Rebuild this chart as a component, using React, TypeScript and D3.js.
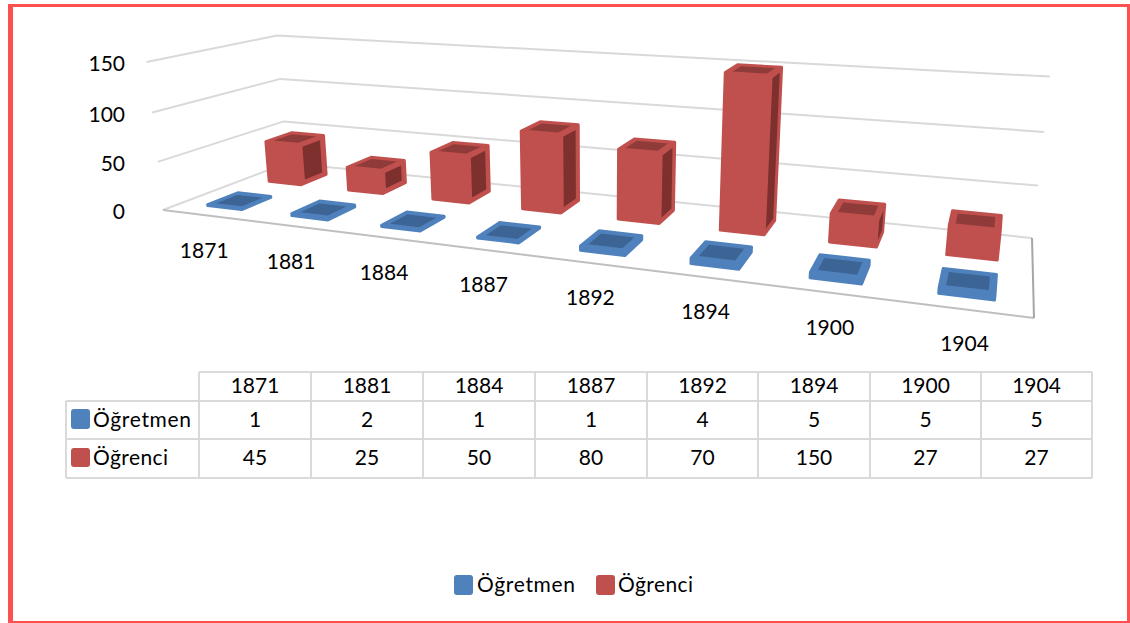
import React from "react";
import * as d3 from "d3";

const years = ["1871", "1881", "1884", "1887", "1892", "1894", "1900", "1904"];
const teachers = [1, 2, 1, 1, 4, 5, 5, 5];
const students = [45, 25, 50, 80, 70, 150, 27, 27];
const valueTicks = [0, 50, 100, 150];
const seriesNames = ["Öğretmen", "Öğrenci"];

type P = [number, number];
const BLUE = "#4F81BD", RED = "#C0504D", GRID = "#D9D9D9";
const FONT = "Lato, Carlito, sans-serif";

// unit square -> quad homography: (0,0),(1,0),(1,1),(0,1); returns homogeneous coordinates
function homography(q: P[]) {
  const [[x0, y0], [x1, y1], [x2, y2], [x3, y3]] = q;
  const dx1 = x1 - x2, dx2 = x3 - x2, sx = x0 - x1 + x2 - x3;
  const dy1 = y1 - y2, dy2 = y3 - y2, sy = y0 - y1 + y2 - y3;
  const det = dx1 * dy2 - dx2 * dy1;
  const g = (sx * dy2 - dx2 * sy) / det;
  const h = (dx1 * sy - sx * dy1) / det;
  const a = x1 - x0 + g * x1, b = x3 - x0 + h * x3;
  const d = y1 - y0 + g * y1, e = y3 - y0 + h * y3;
  return (u: number, v: number): [number, number, number] => [a * u + b * v + x0, d * u + e * v + y0, g * u + h * v + 1];
}

// floor plane: front-left, front-right, back-right, back-left
const floor = homography([[163, 210], [1034, 318], [1032, 238], [287, 163]]);
// vertical vanishing point of the camera and the weight of the full value height
const vanish: P = [596, 4118];
const tau = -0.0365;
const hScale = d3.scaleLinear().domain([0, 150]).range([0, 1]);
const uBand = d3.scaleBand<string>().domain(years).range([0, 1]);

function proj(u: number, v: number, val: number): P {
  const [X, Y, W] = floor(u, v);
  const t = hScale(val) * tau;
  return [(X + t * vanish[0]) / (W + t), (Y + t * vanish[1]) / (W + t)];
}

const pts = (a: P[]) => a.map((p) => p[0].toFixed(1) + "," + p[1].toFixed(1)).join(" ");

function Bar({ year, val, v0, v1, color, topColor, sideColor }: any) {
  const bw = uBand.bandwidth();
  const u0 = uBand(year)! + bw * 0.31, u1 = u0 + bw * 0.41;
  const corners: P[] = [];
  for (const u of [u0, u1]) for (const v of [v0, v1]) for (const h of [0, val]) corners.push(proj(u, v, h));
  const hull = d3.polygonHull(corners)!;
  const du = 0.006, dv = 0.035;
  const top = [proj(u0 + du, v0 + dv, val), proj(u1 - du, v0 + dv, val), proj(u1 - du, v1 - dv, val), proj(u0 + du, v1 - dv, val)];
  const dh = Math.min(4, val * 0.2);
  const side = [proj(u1, v0 + dv, dh), proj(u1, v1 - dv, dh), proj(u1, v1 - dv, val - dh), proj(u1, v0 + dv, val - dh)];
  const sideVisible = proj(u1, v1, 0)[0] - proj(u1, v0, 0)[0] > 3 && val > 10;
  return (
    <g>
      <polygon points={pts(hull)} fill={color} stroke={color} strokeWidth={3} strokeLinejoin="round" />
      <polygon points={pts(top)} fill={topColor} />
      {sideVisible && <polygon points={pts(side)} fill={sideColor} />}
    </g>
  );
}

const tableX = [199, 311, 423, 535, 647, 758, 870, 981, 1092];
const tableY = [372, 401, 439, 478];

export default function App() {
  const labelDx = d3.scaleLinear().domain([0, 7]).range([0, 2]);
  const labelDy = d3.scaleLinear().domain([0, 7]).range([36, 35]);
  const txt = { fontFamily: FONT, fontSize: 21, fill: "#000" } as const;
  return (
    <svg width={1130} height={623} style={{ position: "absolute", left: 0, top: 0, background: "#fff" }}>
      {/* grid walls */}
      {valueTicks.map((t) => {
        const fl = proj(0, 0, t), bl = proj(0, 1, t), br = proj(1, 1, t);
        return <polyline key={t} points={pts([fl, bl, br])} fill="none" stroke={GRID} strokeWidth={2} />;
      })}
      {/* floor */}
      <polyline points={pts([proj(0, 0, 0), proj(1, 0, 0)])} fill="none" stroke="#BFBFBF" strokeWidth={2} />
      <polyline points={pts([proj(1, 1, 0), proj(1, 0, 0)])} fill="none" stroke="#A6A6A6" strokeWidth={2} />
      {valueTicks.map((t) => {
        const p = proj(0, 0, t);
        return <text key={t} x={125} y={p[1] + 9} textAnchor="end" {...txt}>{t}</text>;
      })}
      {years.map((y, i) => (
        <Bar key={y} year={y} val={students[i]} v0={0.63} v1={0.86} color={RED} topColor="#8F3B39" sideColor="#7D302E" />
      ))}
      {years.map((y, i) => (
        <Bar key={y} year={y} val={teachers[i]} v0={0.14} v1={0.37} color={BLUE} topColor="#3C6494" sideColor="#3C6494" />
      ))}
      {years.map((y, i) => {
        const p = proj(uBand(y)! + uBand.bandwidth() / 2, 0, 0);
        return <text key={y} x={p[0] + labelDx(i)} y={p[1] + labelDy(i) + 7} textAnchor="middle" {...txt}>{y}</text>;
      })}
      {/* data table */}
      <g stroke={GRID} strokeWidth={2}>
        <line x1={199} x2={1092} y1={tableY[0]} y2={tableY[0]} />
        {tableY.slice(1).map((y) => <line key={y} x1={66} x2={1092} y1={y} y2={y} />)}
        {tableX.map((x) => <line key={x} x1={x} x2={x} y1={tableY[0]} y2={tableY[3]} />)}
        <line x1={66} x2={66} y1={tableY[1]} y2={tableY[3]} />
      </g>
      {years.map((y, i) => {
        const cx = (tableX[i] + tableX[i + 1]) / 2;
        return (
          <g key={y}>
            <text x={cx} y={393} textAnchor="middle" {...txt}>{y}</text>
            <text x={cx} y={427} textAnchor="middle" {...txt}>{teachers[i]}</text>
            <text x={cx} y={465} textAnchor="middle" {...txt}>{students[i]}</text>
          </g>
        );
      })}
      <rect x={71} y={409} width={19} height={20} rx={3} fill={BLUE} />
      <text x={93} y={427} textLength={98} {...txt}>{seriesNames[0]}</text>
      <rect x={71} y={448} width={19} height={19} rx={3} fill={RED} />
      <text x={93} y={465} textLength={75} {...txt}>{seriesNames[1]}</text>
      {/* legend */}
      <rect x={454} y={575} width={19} height={20} rx={3} fill={BLUE} />
      <text x={477} y={592} textLength={98} {...txt}>{seriesNames[0]}</text>
      <rect x={596} y={575} width={19} height={20} rx={3} fill={RED} />
      <text x={618} y={592} textLength={75} {...txt}>{seriesNames[1]}</text>
      {/* frame */}
      <g fill="#FF5050">
        <rect x={8} y={4} width={5} height={619} />
        <rect x={8} y={4} width={1122} height={3} />
        <rect x={1127} y={4} width={3} height={619} />
        <rect x={8} y={621} width={1122} height={2} />
      </g>
    </svg>
  );
}
